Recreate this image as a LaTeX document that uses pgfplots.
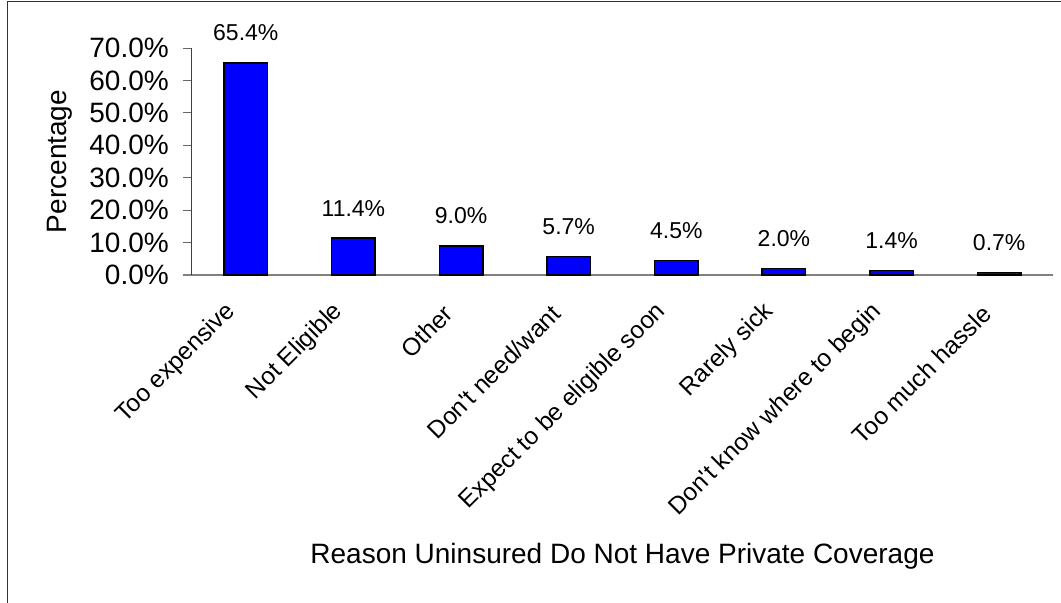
\documentclass[border=0pt]{standalone}
\usepackage{fontspec}
\setmainfont{Liberation Sans}
\usepackage{pgfplots}
\pgfplotsset{compat=1.18}
\begin{document}
\begin{tikzpicture}
\useasboundingbox (-192bp,-328bp) rectangle (869bp,275bp);
\draw[line width=1.5bp, black!80] (-184.5bp,-340bp) -- (-184.5bp,273.5bp) -- (880bp,273.5bp);
\begin{axis}[
  at={(0,0)}, anchor=south west,
  scale only axis, width=861bp, height=227bp,
  xmin=-0.5, xmax=7.5, ymin=0, ymax=70,
  clip=false,
  ybar,
  axis lines*=left,
  x axis line style={draw=black!50, line width=2bp, shorten <=-9bp},
  y axis line style={draw=black!75, line width=1bp},
  /pgf/number format/assume math mode=true,
  xtick={0,...,7},
  xticklabels={Too expensive, Not Eligible, Other, Don\textquotesingle t need/want, Expect to be eligible soon, Rarely sick, Don\textquotesingle t know where to begin, Too much hassle},
  xtick style={draw=none},
  xticklabel style={font=\fontsize{24.5bp}{29bp}\selectfont, xshift=-6bp, rotate=45, anchor=south east, inner sep=0pt},
  xticklabel shift=32bp,
  ytick={0,10,...,70},
  yticklabels={0.0\%,10.0\%,20.0\%,30.0\%,40.0\%,50.0\%,60.0\%,70.0\%},
  ytick style={draw=black!60, line width=1bp},
  tick align=outside,
  major tick length=9bp,
  yticklabel style={font=\fontsize{28bp}{33bp}\selectfont, anchor=east, inner sep=0pt},
  yticklabel shift=14bp,
  ylabel={Percentage},
  ylabel style={font=\fontsize{28bp}{33bp}\selectfont, at={(axis description cs:-0.1452,0.5)}, anchor=base},
  xlabel={Reason Uninsured Do Not Have Private Coverage},
  xlabel style={font=\fontsize{28bp}{33bp}\selectfont, at={(axis description cs:0.5,-1.2687)}, anchor=base},
]
\addplot[ybar, bar width=43.5bp, fill=blue, draw=black, line width=1.5bp,
  nodes near coords={\pgfmathprintnumber[fixed,fixed zerofill,precision=1]{\pgfplotspointmeta}\%},
  every node near coord/.append style={font=\fontsize{23bp}{27bp}\selectfont, anchor=base, yshift=22bp, inner sep=0pt, text=black}]
  coordinates {(0,65.4) (1,11.4) (2,9.0) (3,5.7) (4,4.5) (5,2.0) (6,1.4) (7,0.7)};
\end{axis}
\end{tikzpicture}
\end{document}
